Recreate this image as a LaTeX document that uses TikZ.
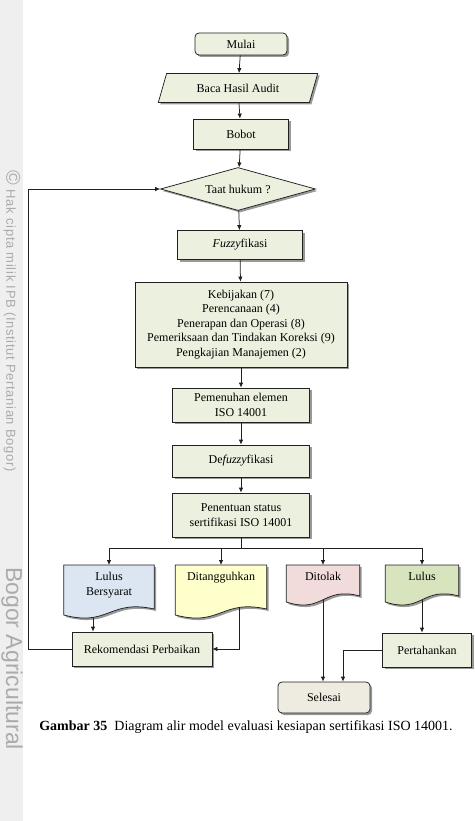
\documentclass[tikz,border=0pt]{standalone}
\usepackage{fontspec}
\setmainfont{Liberation Serif}
\newfontfamily\wmfont[LetterSpace=5]{Liberation Sans}
\newfontfamily\wmfontb{Liberation Sans}
\usetikzlibrary{shapes.geometric,arrows.meta,shadows,calc}
\definecolor{boxgreen}{HTML}{EBF1DE}
\definecolor{docblue}{HTML}{DCE6F2}
\definecolor{docyellow}{HTML}{FFFFCC}
\definecolor{docpink}{HTML}{F2DCDB}
\definecolor{docgreen}{HTML}{D7E4BD}
\definecolor{endgray}{HTML}{EEECE1}
\definecolor{linecol}{HTML}{202020}
\definecolor{stripcol}{HTML}{EFEFEF}
\definecolor{wmcol}{HTML}{ABABAB}
% #1 name, #2 fill colour, #3 height of the shape (pt)
\newcommand\mydocshape[3]{%
  \coordinate (#1-b) at ($(#1.north)+(0pt,-#3pt)$);
  \draw[linecol, line width=0.75pt, fill=#2, myshadow]
    (#1.north west) -- (#1.north east) -- ($(#1.north east)+(0pt,-#3pt)+(0pt,6pt)$)
    .. controls ($(#1-b)+(0pt,16pt)$) and ($(#1-b)+(0pt,-12pt)$) .. ($(#1.north west)+(0pt,-#3pt)$) -- cycle;}
\tikzset{
  myshadow/.style={drop shadow={shadow xshift=2pt, shadow yshift=-2pt, fill=black!50, opacity=0.8}},
  base/.style={draw=linecol, line width=0.75pt, fill=boxgreen, myshadow, align=center,
    font=\fontsize{12}{14.5}\selectfont, inner sep=2pt},
  procbox/.style={base, rectangle},
  termbox/.style={base, rectangle, rounded corners=4pt},
  iobox/.style={base, trapezium, trapezium left angle=68, trapezium right angle=112, trapezium stretches=true},
  decbox/.style={base, diamond, aspect=3.6, inner sep=0pt},
  docbox/.style={rectangle, draw=none, align=center, font=\fontsize{12}{15}\selectfont, inner xsep=2pt, inner ysep=7pt, anchor=north},
  conn/.style={draw=linecol, line width=0.75pt},
  arr/.style={conn, -{Latex[length=5pt,width=4.5pt]}},
}
\begin{document}
\begin{tikzpicture}[x=1pt, y=-1pt]
\useasboundingbox (0,0) rectangle (474,821);
\fill[white] (0,0) rectangle (474,821);
% left strip with watermark
\fill[stripcol] (0,0) rectangle (23,821);
\node[rotate=-90, anchor=west, text=wmcol, inner sep=0pt] (wm1) at (12,170) {{\wmfontb\fontsize{20}{20}\selectfont ©}\hspace{5pt}{\wmfont\fontsize{13}{15}\selectfont Hak cipta milik IPB (Institut Pertanian Bogor)}};
\node[rotate=-90, anchor=west, text=wmcol, font=\wmfontb\fontsize{23}{25}\selectfont, inner sep=0pt] (wm2) at (12,567) {Bogor Agricultural};

% main column
\node[termbox, minimum width=92pt, minimum height=22pt] (mulai) at (241,44) {Mulai};
\node[iobox, minimum width=160pt, minimum height=29pt] (baca) at (238,88) {Baca Hasil Audit};
\node[procbox, minimum width=95pt, minimum height=30pt] (bobot) at (241,134) {Bobot};
\node[decbox, minimum width=155pt, minimum height=43pt] (taat) at (238,189) {Taat hukum ?};
\node[procbox, minimum width=125pt, minimum height=29pt] (fuzz) at (240,245) {\textit{Fuzzy}fikasi};
\node[procbox, minimum width=212pt, minimum height=85pt] (elemen) at (241,324.5) {Kebijakan (7)\\Perencanaan (4)\\Penerapan dan Operasi (8)\\Pemeriksaan dan Tindakan Koreksi (9)\\Pengkajian Manajemen (2)};
\node[procbox, minimum width=137pt, minimum height=34pt] (pemen) at (241,405) {Pemenuhan elemen\\ISO 14001};
\node[procbox, minimum width=137pt, minimum height=32pt] (defuzz) at (241,461) {De\textit{fuzzy}fikasi};
\node[procbox, minimum width=137pt, minimum height=44pt] (penent) at (241,515) {Penentuan status\\sertifikasi ISO 14001};

% document shapes (outline first, text node again on top)
\node[docbox, minimum width=90pt] (lb) at (109,565) {\phantom{Lulus}\\\phantom{Bersyarat}};
\mydocshape{lb}{docblue}{50}
\node[docbox, minimum width=91pt] (dt) at (221,565) {\phantom{Ditangguhkan}};
\mydocshape{dt}{docyellow}{50}
\node[docbox, minimum width=73pt] (dl) at (323,565) {\phantom{Ditolak}};
\mydocshape{dl}{docpink}{37}
\node[docbox, minimum width=73pt] (ls) at (422,565) {\phantom{Lulus}};
\mydocshape{ls}{docgreen}{37}
\node[docbox, minimum width=90pt] (lbt) at (109,565) {Lulus\\Bersyarat};
\node[docbox, minimum width=91pt] (dtt) at (221,565) {Ditangguhkan};
\node[docbox, minimum width=73pt] (dlt) at (323,565) {Ditolak};
\node[docbox, minimum width=73pt] (lst) at (422,565) {Lulus};

\node[procbox, minimum width=140pt, minimum height=34pt] (rekom) at (142,649) {Rekomendasi Perbaikan};
\node[procbox, minimum width=89pt, minimum height=34pt] (perta) at (427,650) {Pertahankan};
\node[termbox, fill=endgray, minimum width=92pt, minimum height=31pt] (selesai) at (324,697.5) {Selesai};

% helper coordinates
\coordinate (branch) at (241,548);
\coordinate (loopbl) at (28,649);
\coordinate (looptl) at (28,189);
\coordinate (ptcorner) at (343,650);
\coordinate (lbout) at ($(lb-b)+(-16pt,-2.5pt)$);
\coordinate (dtout) at ($(dt-b)+(18pt,7pt)$);
\coordinate (dlout) at ($(dl-b)+(0pt,2pt)$);
\coordinate (lsout) at ($(ls-b)+(0pt,2pt)$);

% connectors
\draw[arr] (mulai) -- (baca);
\draw[arr] (baca) -- (bobot);
\draw[arr] (bobot) -- (taat);
\draw[arr] (taat) -- (fuzz);
\draw[arr] (fuzz) -- (elemen);
\draw[arr] (elemen) -- (pemen);
\draw[arr] (pemen) -- (defuzz);
\draw[arr] (defuzz) -- (penent);
\draw[conn] (penent.south) -- (branch);
\draw[arr] (branch) -| (lb.north);
\draw[arr] (branch) -| (ls.north);
\draw[arr] (branch -| dt.north) -- (dt.north);
\draw[arr] (branch -| dl.north) -- (dl.north);
\draw[arr] (lbout) -- (lbout |- rekom.north);
\draw[arr] (dtout) |- (rekom.east);
\draw[arr] (rekom.west) -- (loopbl) -- (looptl) -- (taat.west);
\draw[arr] (dlout) -- (dlout |- selesai.north);
\draw[arr] (lsout) -- (lsout |- perta.north);
\draw[arr] (perta.west) -- (ptcorner) -- (ptcorner |- selesai.north);

% caption
\node[font=\fontsize{14}{16}\selectfont, inner sep=0pt] (cap) at (246,727) {\textbf{Gambar 35}\ \ Diagram alir model evaluasi kesiapan sertifikasi ISO 14001.};
\end{tikzpicture}
\end{document}
